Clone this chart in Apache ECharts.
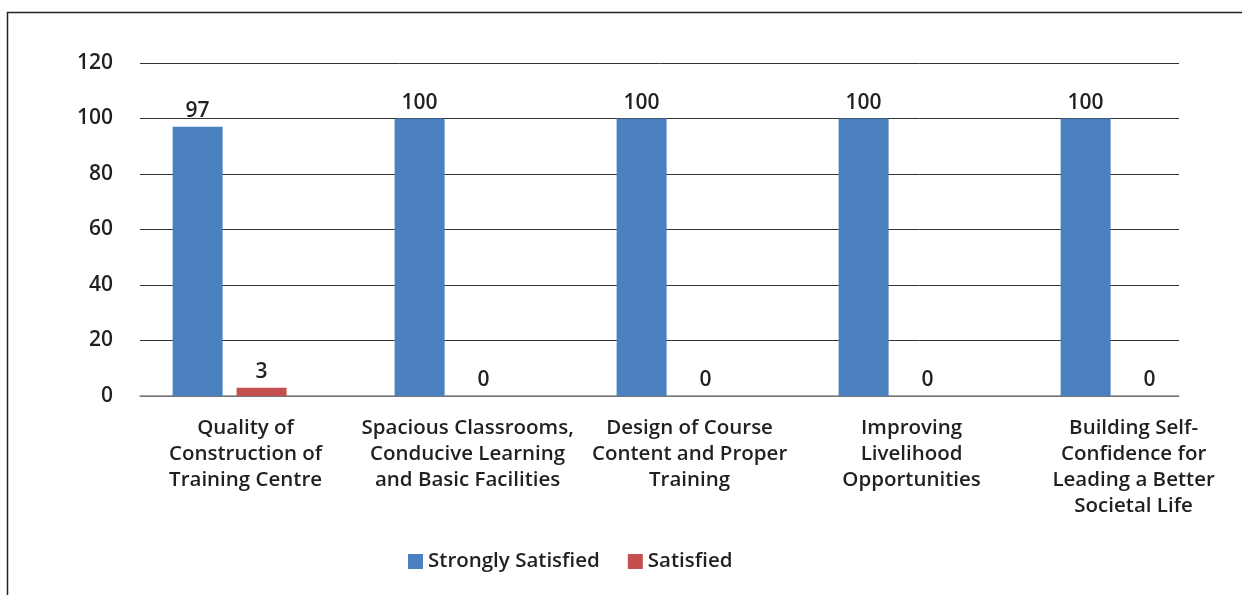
<!DOCTYPE html>
<html>
<head>
<meta charset="utf-8">
<title>Satisfaction chart</title>
<script src="https://cdn.jsdelivr.net/npm/echarts@6/dist/echarts.min.js"></script>
<style>
  html, body { margin: 0; padding: 0; background: #fff; }
  #chart { width: 1242px; height: 595px; }
</style>
</head>
<body>
<div id="chart"></div>
<script>
// categories (wrapped the way the source shows them)
const categories = [
  "Quality of\nConstruction of\nTraining Centre",
  "Spacious Classrooms,\nConducive Learning\nand Basic Facilities",
  "Design of Course\nContent and Proper\nTraining",
  "Improving\nLivelihood\nOpportunities",
  "Building Self-\nConfidence for\nLeading a Better\nSocietal Life"
];
const strongly = [97, 100, 100, 100, 100];
const satisfied = [3, 0, 0, 0, 0];
const yTicks = { min: 0, max: 120, interval: 20 };

const font = "Open Sans";
const ink = "#231f20";

const chart = echarts.init(document.getElementById("chart"));

chart.setOption({
  animation: false,
  textStyle: { fontFamily: font },
  graphic: [{
    type: "rect",
    shape: { x: 7.5, y: 12.5, width: 1400, height: 800 },
    style: { fill: "none", stroke: "#222", lineWidth: 1.5 },
    silent: true
  }],
  grid: [
    // frame: gridlines and y labels
    { left: 140, right: 63, top: 63, bottom: 199, outerBoundsMode: "none" },
    // bars
    { left: 118.6, right: 13.4, top: 63, bottom: 199, outerBoundsMode: "none" }
  ],
  legend: {
    left: 403,
    top: 546,
    itemWidth: 15,
    itemHeight: 15,
    itemGap: 28,
    icon: "rect",
    textStyle: { fontFamily: font, fontWeight: 600, fontSize: 20.5, color: ink },
    data: ["Strongly Satisfied", "Satisfied"]
  },
  xAxis: [
    {
      gridIndex: 0,
      type: "category",
      data: categories,
      axisTick: { show: false },
      axisLabel: { show: false },
      axisLine: { show: true, lineStyle: { color: "#8a8a8a", width: 1.5 } }
    },
    {
      gridIndex: 1,
      type: "category",
      data: categories,
      axisTick: { show: false },
      axisLine: { show: false },
      axisLabel: {
        interval: 0,
        margin: 19,
        fontFamily: font,
        fontWeight: 600,
        fontSize: 20.5,
        lineHeight: 26,
        color: ink,
        align: "center",
        padding: [0, 0, 0, 32]
      }
    }
  ],
  yAxis: [
    {
      gridIndex: 0,
      type: "value",
      min: yTicks.min,
      max: yTicks.max,
      interval: yTicks.interval,
      axisLine: { show: false },
      axisTick: { show: false },
      axisLabel: {
        margin: 27,
        fontFamily: font,
        fontWeight: 600,
        fontSize: 21,
        color: ink
      },
      splitLine: { lineStyle: { color: "#333", width: 1 } }
    },
    {
      gridIndex: 1,
      type: "value",
      min: yTicks.min,
      max: yTicks.max,
      interval: yTicks.interval,
      show: false,
      splitLine: { show: false }
    }
  ],
  series: [
    {
      name: "Strongly Satisfied",
      type: "bar",
      xAxisIndex: 1,
      yAxisIndex: 1,
      data: strongly,
      barWidth: 50,
      barGap: "28%",
      itemStyle: { color: "#4a80bf" },
      label: {
        show: true,
        position: "top",
        distance: 5,
        fontFamily: font,
        fontWeight: 600,
        fontSize: 21,
        color: ink
      }
    },
    {
      name: "Satisfied",
      type: "bar",
      xAxisIndex: 1,
      yAxisIndex: 1,
      data: satisfied,
      barWidth: 50,
      itemStyle: { color: "#c44f4e" },
      label: {
        show: true,
        position: "top",
        distance: 5,
        fontFamily: font,
        fontWeight: 600,
        fontSize: 21,
        color: ink
      }
    }
  ]
});
</script>
</body>
</html>
